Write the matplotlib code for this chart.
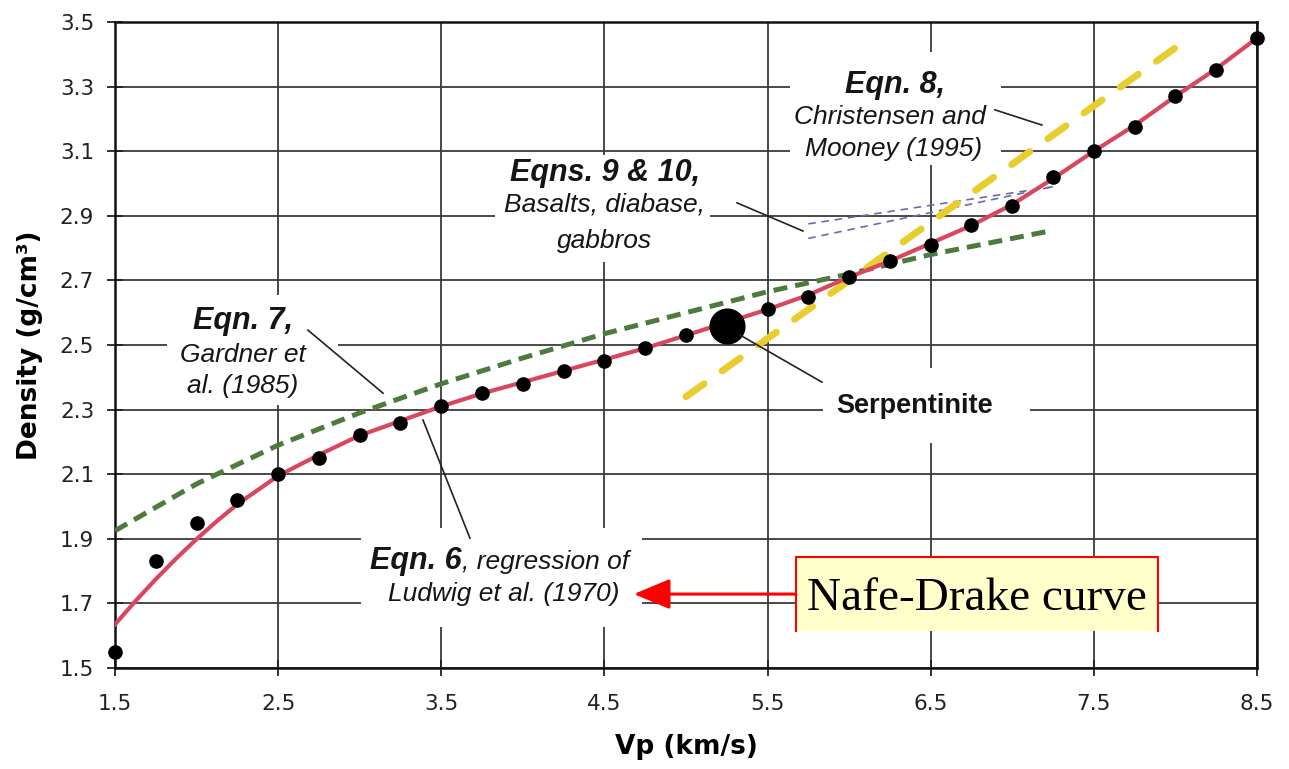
import matplotlib
matplotlib.use("Agg")
import matplotlib.pyplot as plt
from matplotlib.patches import Rectangle, FancyArrowPatch

# ---- data ----
# black dots (measured samples)
dot_vp = [1.5, 1.75, 2.0, 2.25, 2.5, 2.75, 3.0, 3.25, 3.5, 3.75, 4.0, 4.25, 4.5, 4.75,
          5.0, 5.25, 5.5, 5.75, 6.0, 6.25, 6.5, 6.75, 7.0, 7.25, 7.5, 7.75, 8.0, 8.25, 8.5]
dot_rho = [1.55, 1.83, 1.95, 2.02, 2.10, 2.15, 2.22, 2.26, 2.31, 2.35, 2.38, 2.42, 2.45, 2.49,
           2.53, 2.57, 2.61, 2.65, 2.71, 2.76, 2.81, 2.87, 2.93, 3.02, 3.10, 3.175, 3.27, 3.35, 3.45]

# red curve, Eqn. 6 (Nafe-Drake / Ludwig et al.)
red_vp = [1.5, 1.625, 1.75, 1.875, 2.0, 2.125, 2.25, 2.5, 2.75, 3.0, 3.25, 3.5, 3.75, 4.0, 4.25,
          4.5, 4.75, 5.0, 5.25, 5.5, 5.75, 6.0, 6.25, 6.5, 6.75, 7.0, 7.25, 7.5, 7.75, 8.0,
          8.25, 8.5]
red_rho = [1.635, 1.707, 1.775, 1.839, 1.899, 1.955, 2.007, 2.095, 2.16, 2.22, 2.265, 2.31,
           2.35, 2.385, 2.42, 2.455, 2.49, 2.53, 2.57, 2.61, 2.655, 2.71, 2.76, 2.815, 2.87,
           2.935, 3.015, 3.10, 3.18, 3.27, 3.355, 3.45]

# green dashed, Eqn. 7 (Gardner et al.)
green_vp = [1.5, 2.0, 2.5, 3.0, 3.5, 4.0, 4.5, 5.0, 5.5, 6.0, 6.5, 7.0, 7.25]
green_rho = [1.925, 2.07, 2.19, 2.29, 2.38, 2.46, 2.535, 2.60, 2.665, 2.72, 2.78, 2.83, 2.855]

# yellow dashed, Eqn. 8 (Christensen and Mooney)
yellow_vp = [5.0, 8.0]
yellow_rho = [2.34, 3.42]

# purple thin dashed, Eqns. 9 & 10
purple_vp = [5.75, 7.25]
purple_rho_a = [2.875, 2.99]
purple_rho_b = [2.83, 2.99]

# serpentinite point
serp_vp = [5.25]
serp_rho = [2.56]

x_ticks = [1.5, 2.5, 3.5, 4.5, 5.5, 6.5, 7.5, 8.5]
y_ticks = [1.5, 1.7, 1.9, 2.1, 2.3, 2.5, 2.7, 2.9, 3.1, 3.3, 3.5]

fig = plt.figure(figsize=(12.89, 7.69), dpi=100)
ax = fig.add_axes([0.0892, 0.1313, 0.8859, 0.8401])

ax.set_xlim(1.5, 8.5)
ax.set_ylim(1.5, 3.5)
ax.set_xticks(x_ticks)
ax.set_yticks(y_ticks)
ax.set_xticklabels([f"{v:.1f}" for v in x_ticks])
ax.set_yticklabels([f"{v:.1f}" for v in y_ticks])
ax.tick_params(direction="inout", length=12, width=1.3, labelsize=15.5, colors="#222222")
ax.tick_params(axis="x", pad=13)
ax.tick_params(axis="y", pad=9)
ax.set_axisbelow(True)
ax.grid(True, color="#3a3a3a", linewidth=1.3)
for sp in ax.spines.values():
    sp.set_linewidth(1.8)
    sp.set_color("#111111")

ax.set_xlabel("Vp (km/s)", fontsize=19, fontweight="bold", labelpad=14)
ax.set_ylabel("Density (g/cm³)", fontsize=19, fontweight="bold", labelpad=12)

# white patches behind the annotation blocks (they hide the grid)
for x0, x1, y0, y1 in [(5.64, 6.93, 3.057, 3.407), (3.83, 5.15, 2.757, 3.088),
                       (1.82, 2.87, 2.314, 2.655), (3.01, 4.73, 1.627, 1.933),
                       (5.84, 7.11, 2.197, 2.429)]:
    ax.add_patch(Rectangle((x0, y0), x1 - x0, y1 - y0, facecolor="white",
                           edgecolor="none", zorder=1))

# curves
ax.plot(purple_vp, purple_rho_a, color="#6b6ba8", lw=1.2, dashes=(4.5, 3.5), zorder=3)
ax.plot(purple_vp, purple_rho_b, color="#6b6ba8", lw=1.2, dashes=(4.5, 3.5), zorder=3)
ax.plot(green_vp, green_rho, color="#4d7a3d", lw=3.6, dashes=(2.8, 1.6), zorder=3)
ax.plot(yellow_vp, yellow_rho, color="#e8cd2e", lw=5, dashes=(3.2, 3.2),
        dash_capstyle="round", zorder=3)
ax.plot(red_vp, red_rho, color="#d9475f", lw=3, zorder=4)
ax.plot(dot_vp, dot_rho, "o", color="black", ms=9.5, zorder=5, clip_on=False)
ax.plot(serp_vp, serp_rho, "o", color="black", ms=25, zorder=5)

# annotation text
bi = dict(fontfamily="Liberation Sans", fontsize=22, fontweight="bold", fontstyle="italic",
          color="#151515", zorder=6)
it = dict(fontfamily="Liberation Sans", fontsize=19, fontstyle="italic", color="#151515",
          zorder=6)

ax.text(6.281, 3.280, "Eqn. 8,", ha="center", va="baseline", **bi)
ax.text(6.250, 3.183, "Christensen and", ha="center", va="baseline", **it)
ax.text(6.275, 3.085, "Mooney (1995)", ha="center", va="baseline", **it)

ax.text(4.503, 3.008, "Eqns. 9 & 10,", ha="center", va="baseline", **bi)
ax.text(4.500, 2.912, "Basalts, diabase,", ha="center", va="baseline", **it)
ax.text(4.500, 2.800, "gabbros", ha="center", va="baseline", **it)

ax.text(2.285, 2.549, "Eqn. 7,", ha="center", va="baseline", **bi)
ax.text(2.285, 2.448, "Gardner et", ha="center", va="baseline", **it)
ax.text(2.285, 2.350, "al. (1985)", ha="center", va="baseline", **it)

ax.text(3.627, 1.806, "Eqn. 6", ha="right", va="baseline", **bi)
ax.text(3.627, 1.806, ", regression of", ha="left", va="baseline", **it)
ax.text(3.881, 1.707, "Ludwig et al. (1970)", ha="center", va="baseline", **it)

ax.text(6.404, 2.290, "Serpentinite", ha="center", va="baseline", fontfamily="Liberation Sans",
        fontsize=19.5, fontweight="bold", color="#151515", zorder=6)

# leader lines
for (xa, ya), (xb, yb) in [((6.894, 3.228), (7.182, 3.181)),
                           ((5.313, 2.940), (5.717, 2.853)),
                           ((2.683, 2.546), (3.143, 2.351)),
                           ((3.388, 2.268), (3.676, 1.902)),
                           ((5.331, 2.531), (5.834, 2.385))]:
    ax.plot([xa, xb], [ya, yb], color="#222222", lw=1.2, zorder=6)

# "Nafe-Drake curve" callout box (bottom edge cut off in the original)
bx0, bx1, by0, by1 = 5.673, 7.891, 1.6146, 1.8437
ax.add_patch(Rectangle((bx0, by0), bx1 - bx0, by1 - by0, facecolor="#ffffcc",
                       edgecolor="none", zorder=7))
ax.plot([bx0, bx0, bx1, bx1], [by0, by1, by1, by0], color="red", lw=1.5, zorder=8)
ax.text((bx0 + bx1) / 2, 1.681, "Nafe-Drake curve", ha="center", va="baseline",
        fontfamily="Liberation Serif", fontsize=34, color="black", zorder=8)
ax.add_patch(FancyArrowPatch((bx0, 1.729), (4.681, 1.729),
                             arrowstyle="-|>,head_length=1.6,head_width=0.67",
                             mutation_scale=14, color="red", lw=2.2,
                             shrinkA=0, shrinkB=0, zorder=8))

fig.savefig("out.png", dpi=100)
